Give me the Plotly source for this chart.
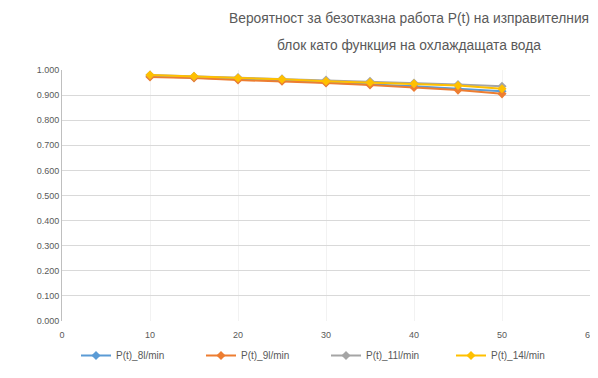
import plotly.graph_objects as go

x_vals = [10, 15, 20, 25, 30, 35, 40, 45, 50]
p_8 = [0.975, 0.970, 0.963, 0.958, 0.950, 0.943, 0.935, 0.925, 0.915]
p_9 = [0.972, 0.968, 0.960, 0.955, 0.948, 0.940, 0.930, 0.920, 0.905]
p_11 = [0.980, 0.975, 0.970, 0.965, 0.960, 0.955, 0.948, 0.942, 0.935]
p_14 = [0.980, 0.975, 0.968, 0.963, 0.955, 0.950, 0.945, 0.938, 0.925]
series_names = ["P(t)_8l/min", "P(t)_9l/min", "P(t)_11l/min", "P(t)_14l/min"]
colors = ["#5B9BD5", "#ED7D31", "#A5A5A5", "#FFC000"]
y_ticks = [i / 10 for i in range(11)]
x_ticks = [0, 10, 20, 30, 40, 50, 60]
title_lines = ["Вероятност за безотказна работа P(t) на изправителния",
               "блок като функция на охлаждащата вода"]

# page has an 8px body margin: figure is drawn offset by (8, 8)
OFF = 8
W, H = 590, 370
L = 62 - OFF
T = 70 - OFF
R = (OFF + W) - 590
B = (OFF + H) - 321
pw = W - L - R
ph = H - T - B
plot_bottom_page = OFF + H - B

fig = go.Figure()
for name, vals, c in zip(series_names, [p_8, p_9, p_11, p_14], colors):
    fig.add_trace(go.Scatter(x=x_vals, y=vals, mode="lines+markers", name=name,
                             line=dict(color=c, width=2),
                             marker=dict(symbol="diamond", size=7, color=c)))

fig.update_layout(
    width=W, height=H,
    margin=dict(l=L, r=R, t=T, b=B, autoexpand=False),
    paper_bgcolor="white", plot_bgcolor="white",
    font=dict(family="Liberation Sans, Arial, sans-serif", color="#595959", size=9),
    showlegend=True,
    legend=dict(orientation="h", x=0.5, xanchor="center",
                y=-(341 - plot_bottom_page) / ph,
                yanchor="top", font=dict(size=10, color="#595959"),
                entrywidth=80, entrywidthmode="pixels"),
    xaxis=dict(range=[0, 60], tickvals=x_ticks, showgrid=True, gridcolor="#f2f2f2",
               zeroline=False, showline=False, ticks="outside", ticklen=5,
               tickcolor="white", tickfont=dict(size=9)),
    yaxis=dict(range=[0, 1], tickvals=y_ticks, tickformat=".3f", showgrid=True,
               gridcolor="#d9d9d9", zeroline=False, showline=True, linecolor="#bfbfbf",
               linewidth=1, ticks="", tickfont=dict(size=9)),
)

for text, py in zip(title_lines, [19, 45]):
    fig.add_annotation(text=text, x=(409 - OFF - L) / pw, y=(plot_bottom_page - py) / ph,
                       xref="paper", yref="paper", showarrow=False,
                       xanchor="center", yanchor="middle",
                       font=dict(size=13.8, color="#595959"))

fig.write_html("out.html")
